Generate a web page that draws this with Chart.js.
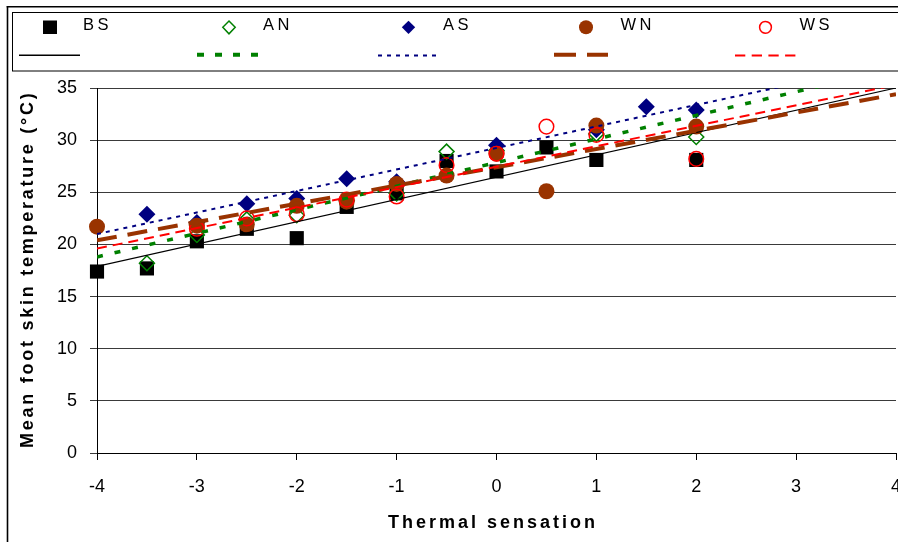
<!DOCTYPE html>
<html>
<head>
<meta charset="utf-8">
<script src="https://cdn.jsdelivr.net/npm/chart.js@4/dist/chart.umd.min.js"></script>
<style>
  html, body { margin:0; padding:0; background:#fff; overflow:hidden; }
  #wrap { position:relative; width:898px; height:542px; overflow:hidden; }
  canvas { position:absolute; left:0; top:0; }
  svg { position:absolute; left:0; top:0; pointer-events:none; }
  .t { position:absolute; font-family:"Liberation Sans", Arial, sans-serif; line-height:1; white-space:nowrap; color:#000; }
  .lg { font-size:16.5px; letter-spacing:3.5px; top:15.8px; }
  #xt { font-size:18px; font-weight:bold; letter-spacing:3px; left:388px; top:512.8px; }
  #yt { font-size:18px; font-weight:bold; letter-spacing:2.75px; left:18px; top:448px; transform:rotate(-90deg); transform-origin:0 0; }
</style>
</head>
<body>
<div id="wrap">
<canvas id="c" width="906" height="542"></canvas>
<svg width="898" height="542" viewBox="0 0 898 542">
  <!-- outer frame -->
  <line x1="7.5" y1="6" x2="7.5" y2="542" stroke="#000" stroke-width="1.6"/>
  <line x1="6.7" y1="6.8" x2="898" y2="6.8" stroke="#000" stroke-width="1.6"/>
  <!-- legend box -->
  <rect x="12.5" y="12.5" width="900" height="58.5" fill="none" stroke="#000" stroke-width="1"/>
  <!-- legend markers -->
  <rect x="43" y="20.5" width="14" height="13.5" fill="#000"/>
  <polygon points="229,21 235.2,27.3 229,33.8 222.8,27.3" fill="none" stroke="#008000" stroke-width="1.5"/>
  <polygon points="408.5,20.7 415.2,27.3 408.5,34 401.8,27.3" fill="#000080"/>
  <circle cx="586" cy="27.3" r="7" fill="#993300"/>
  <circle cx="765.5" cy="27.3" r="5.9" fill="none" stroke="#ff0000" stroke-width="1.5"/>
  <!-- legend line samples -->
  <line x1="19" y1="55.2" x2="80" y2="55.2" stroke="#000" stroke-width="1.5"/>
  <line x1="197" y1="54.7" x2="258" y2="54.7" stroke="#008000" stroke-width="4" stroke-dasharray="7 11"/>
  <line x1="378" y1="55.5" x2="437" y2="55.5" stroke="#000080" stroke-width="2" stroke-dasharray="4 5"/>
  <line x1="554" y1="54.7" x2="608" y2="54.7" stroke="#993300" stroke-width="4" stroke-dasharray="22 11"/>
  <line x1="735" y1="55.5" x2="796" y2="55.5" stroke="#ff0000" stroke-width="2.2" stroke-dasharray="10.3 6.4"/>
</svg>
<span class="t lg" style="left:83px">BS</span>
<span class="t lg" style="left:263px">AN</span>
<span class="t lg" style="left:443px">AS</span>
<span class="t lg" style="left:620.5px">WN</span>
<span class="t lg" style="left:799.5px">WS</span>
<span class="t" id="xt">Thermal sensation</span>
<span class="t" id="yt">Mean foot skin temperature (°C)</span>
</div>
<script>
// ---- data ----
const seriesNames = ["BS", "AN", "AS", "WN", "WS"];

const xBS = [-4, -3.5, -3, -2.5, -2, -1.5, -1, -0.5, 0, 0.5, 1, 2];
const yBS = [17.4, 17.7, 20.3, 21.5, 20.6, 23.6, 24.9, 28.0, 27.0, 29.3, 28.1, 28.1];

const xAN = [-3.5, -3, -2.5, -2, -1.5, -1, -0.5, 0, 1, 2];
const yAN = [18.2, 20.9, 22.4, 22.8, 24.2, 24.9, 28.9, 29.0, 30.6, 30.3];

const xAS = [-3.5, -3, -2.5, -2, -1.5, -1, 0, 1, 1.5, 2];
const yAS = [22.9, 22.1, 23.9, 24.4, 26.3, 26.0, 29.5, 31.0, 33.2, 32.9];

const xWN = [-4, -3, -2.5, -2, -1.5, -1, -0.5, 0, 0.5, 1, 2];
const yWN = [21.7, 21.8, 21.9, 23.7, 24.1, 25.8, 26.6, 28.7, 25.1, 31.4, 31.3];

const xWS = [-3, -2.5, -2, -1.5, -1, -0.5, 0, 0.5, 1, 2];
const yWS = [21.5, 22.5, 22.9, 24.3, 24.6, 27.6, 28.7, 31.3, 30.5, 28.2];

// linear trend lines: values at x = -4 and x = 4
const trendX  = [-4, 4];
const trendBS = [17.9, 35.0];
const trendAN = [18.8, 36.9];
const trendAS = [21.0, 37.5];
const trendWN = [20.4, 34.4];
const trendWS = [19.6, 35.3];

const xTicks = [-4, -3, -2, -1, 0, 1, 2, 3, 4];
const yTicks = [0, 5, 10, 15, 20, 25, 30, 35];

// ---- build datasets ----
const pts = (xs, ys) => xs.map((x, i) => ({ x: x, y: ys[i] }));

const markerSets = [
  { label: seriesNames[0], data: pts(xBS, yBS), pointStyle: 'rect', pointRadius: 10, backgroundColor: '#000', borderColor: '#000', borderWidth: 0, order: 10 },
  { label: seriesNames[1], data: pts(xAN, yAN), pointStyle: 'rectRot', pointRadius: 7.5, backgroundColor: 'rgba(0,0,0,0)', borderColor: '#008000', borderWidth: 1.5, order: 9 },
  { label: seriesNames[2], data: pts(xAS, yAS), pointStyle: 'rectRot', pointRadius: 8.5, backgroundColor: '#000080', borderColor: '#000080', borderWidth: 0, order: 8 },
  { label: seriesNames[3], data: pts(xWN, yWN), pointStyle: 'circle', pointRadius: 8, backgroundColor: '#993300', borderColor: '#993300', borderWidth: 0, order: 7 },
  { label: seriesNames[4], data: pts(xWS, yWS), pointStyle: 'circle', pointRadius: 7.3, backgroundColor: 'rgba(0,0,0,0)', borderColor: '#ff0000', borderWidth: 1.5, order: 6 }
].map(d => Object.assign(d, { showLine: false, clip: false, pointHoverRadius: d.pointRadius }));

const lineSets = [
  { label: seriesNames[0] + ' fit', data: pts(trendX, trendBS), borderColor: '#000', borderWidth: 1.2, borderDash: [], order: 5 },
  { label: seriesNames[1] + ' fit', data: pts(trendX, trendAN), borderColor: '#008000', borderWidth: 3.5, borderDash: [6, 12], order: 4 },
  { label: seriesNames[2] + ' fit', data: pts(trendX, trendAS), borderColor: '#000080', borderWidth: 2, borderDash: [4, 5], order: 3 },
  { label: seriesNames[3] + ' fit', data: pts(trendX, trendWN), borderColor: '#993300', borderWidth: 4, borderDash: [20, 11], order: 2 },
  { label: seriesNames[4] + ' fit', data: pts(trendX, trendWS), borderColor: '#ff0000', borderWidth: 2, borderDash: [10, 6], order: 1 }
].map(d => Object.assign(d, { showLine: true, pointRadius: 0, fill: false, tension: 0, borderCapStyle: 'butt' }));

const tickFont = { family: '"Liberation Sans", Arial, sans-serif', size: 18 };

new Chart(document.getElementById('c'), {
  type: 'scatter',
  data: { datasets: markerSets.concat(lineSets) },
  options: {
    responsive: false,
    animation: false,
    devicePixelRatio: 1,
    layout: { padding: { top: 88, left: 0, right: 0, bottom: 0 } },
    plugins: { legend: { display: false }, tooltip: { enabled: false } },
    scales: {
      x: {
        type: 'linear', min: xTicks[0], max: xTicks[xTicks.length - 1],
        afterBuildTicks: s => { s.ticks = xTicks.map(v => ({ value: v })); },
        ticks: { font: tickFont, color: '#000', padding: 16, maxRotation: 0, autoSkip: false },
        grid: { drawOnChartArea: false, drawTicks: true, tickLength: 7, color: '#000', lineWidth: 1 },
        border: { display: true, color: '#000', width: 1 },
        afterFit: s => { s.height = 89; s.paddingLeft = 0; s.paddingRight = 0; }
      },
      y: {
        type: 'linear', min: yTicks[0], max: yTicks[yTicks.length - 1],
        afterBuildTicks: s => { s.ticks = yTicks.map(v => ({ value: v })); },
        ticks: { font: tickFont, color: '#000', padding: 13 },
        grid: { drawOnChartArea: true, drawTicks: true, tickLength: 7, color: '#3a3a3a', lineWidth: 1 },
        border: { display: true, color: '#000', width: 1 },
        afterFit: s => { s.width = 97; s.paddingTop = 0; s.paddingBottom = 0; }
      }
    }
  }
});
</script>
</body>
</html>
